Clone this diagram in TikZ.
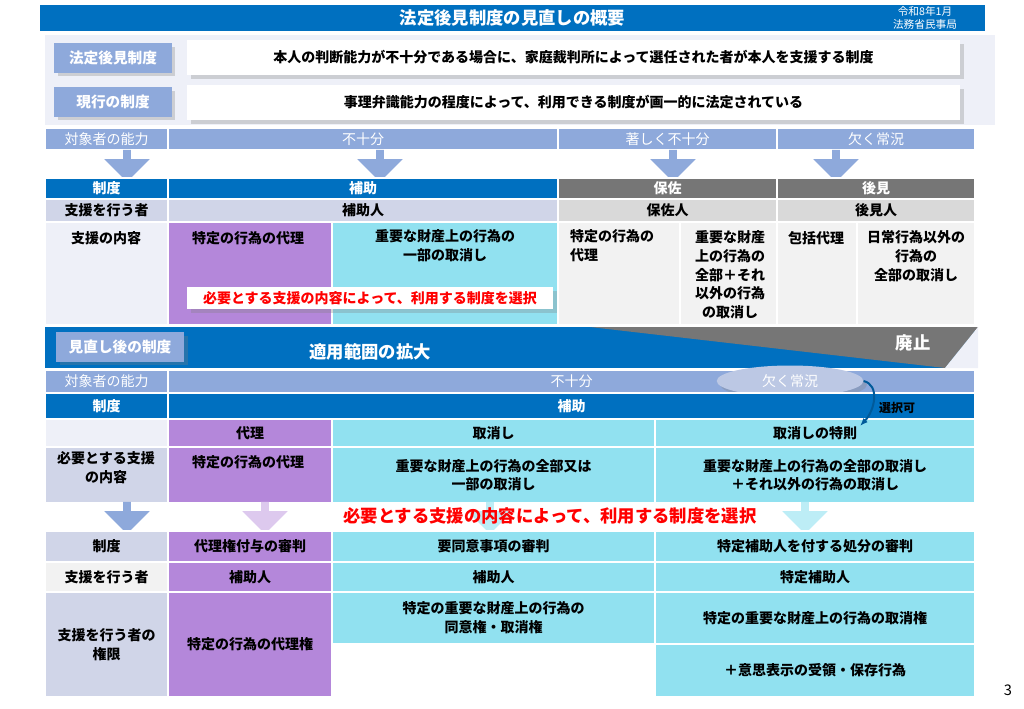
\documentclass[tikz,border=0pt]{standalone}
\usepackage{fontspec}
\setmainfont{Noto Sans CJK JP}
\usetikzlibrary{shapes.geometric, shapes.arrows, arrows.meta, shadows}
\definecolor{hdblue}{RGB}{0,112,192}
\definecolor{capblue}{RGB}{142,169,219}
\definecolor{lav}{RGB}{208,213,232}
\definecolor{pale}{RGB}{238,240,248}
\definecolor{purp}{RGB}{180,135,218}
\definecolor{cyanc}{RGB}{145,225,240}
\definecolor{gry}{RGB}{118,118,118}
\definecolor{lgry}{RGB}{217,217,217}
\definecolor{vlgry}{RGB}{242,242,242}
\tikzstyle{cell} = [draw=white, line width=0.8pt]
\tikzstyle{txt} = [font=\bfseries\fontsize{10.5}{14}\selectfont, align=center]
\tikzstyle{wtxt} = [txt, text=white]
\tikzstyle{ltxt} = [text=white, font=\fontsize{10.5}{14}\selectfont]
\tikzstyle{tag} = [rectangle, fill=capblue, text=white, font=\bfseries\fontsize{11}{14}\selectfont, drop shadow={opacity=0.3}]
\tikzstyle{downarrow} = [single arrow, shape border rotate=270, minimum height=24pt, minimum width=34pt, single arrow head extend=6pt, inner sep=1pt]
\begin{document}
\begin{tikzpicture}[x=0.75pt, y=-0.75pt]
	\useasboundingbox (0,0) rectangle (1024,709);
	
	% title
	\path[fill=hdblue] (40,5) rectangle node (title) [text=white, font=\bfseries\fontsize{13}{15}\selectfont] {法定後見制度の見直しの概要} (985,31);
	\node (date) [text=white, font=\fontsize{8}{9.5}\selectfont, align=center] at (925,18) {令和8年1月\\法務省民事局};
	
	% upper panel
	\fill[pale] (45,35) rectangle (995,125);
	\node (t1) [tag, minimum width=88pt, minimum height=22pt] at (113,58) {法定後見制度};
	\path[fill=white, drop shadow={opacity=0.3}] (187,40) rectangle node (d1) [txt] {本人の判断能力が不十分である場合に、家庭裁判所によって選任された者が本人を支援する制度} (960,75);
	\node (t2) [tag, minimum width=88pt, minimum height=22pt] at (113,102) {現行の制度};
	\path[fill=white, drop shadow={opacity=0.3}] (187,85) rectangle node (d2) [txt] {事理弁識能力の程度によって、利用できる制度が画一的に法定されている} (960,120);
	
	% current system table
	\path[cell, fill=capblue] (45,128) rectangle node (a0) [ltxt] {対象者の能力} (168,150);
	\path[cell, fill=capblue] (168,128) rectangle node (a1) [ltxt] {不十分} (558,150);
	\path[cell, fill=capblue] (558,128) rectangle node (a2) [ltxt] {著しく不十分} (777,150);
	\path[cell, fill=capblue] (777,128) rectangle node (a3) [ltxt] {欠く常況} (975,150);
	\fill[white] (45,150) rectangle (975,178);
	\foreach \x/\n in {127/0, 380/1, 673/2, 836/3}
		\node (da\n) [downarrow, fill=capblue] at (\x,164) {};
	\path[cell, fill=hdblue] (45,178) rectangle node (b0) [wtxt] {制度} (168,199);
	\path[cell, fill=hdblue] (168,178) rectangle node (b1) [wtxt] {補助} (558,199);
	\path[cell, fill=gry] (558,178) rectangle node (b2) [wtxt] {保佐} (777,199);
	\path[cell, fill=gry] (777,178) rectangle node (b3) [wtxt] {後見} (975,199);
	\path[cell, fill=lav] (45,199) rectangle node (c0) [txt] {支援を行う者} (168,222);
	\path[cell, fill=lav] (168,199) rectangle node (c1) [txt] {補助人} (558,222);
	\path[cell, fill=lgry] (558,199) rectangle node (c2) [txt] {保佐人} (777,222);
	\path[cell, fill=lgry] (777,199) rectangle node (c3) [txt] {後見人} (975,222);
	\path[cell, fill=pale] (45,222) rectangle (168,325);
	\node (e0) [txt] at (106,238) {支援の内容};
	\path[cell, fill=purp] (168,222) rectangle (332,325);
	\node (e1) [txt] at (248,238) {特定の行為の代理};
	\path[cell, fill=cyanc] (332,222) rectangle (558,325);
	\node (e2) [txt] at (445,246) {重要な財産上の行為の\\一部の取消し};
	\path[cell, fill=vlgry] (558,222) rectangle (680,325);
	\node (e3) [txt, align=left] at (612,246) {特定の行為の\\代理};
	\path[cell, fill=vlgry] (680,222) rectangle (857,325);
	\node (e4) [txt, anchor=north] at (730,226) {重要な財産\\上の行為の\\全部＋それ\\以外の行為\\の取消し};
	\path[cell, fill=vlgry] (777,222) rectangle (857,325);
	\path[cell, fill=vlgry] (857,222) rectangle (975,325);
	\node (e5) [txt] at (816,238) {包括代理};
	\node (e6) [txt, anchor=north] at (916,226) {日常行為以外の\\行為の\\全部の取消し};
	\path[fill=white, drop shadow={opacity=0.3}] (187,287) rectangle node (sel1) [txt, text=red] {必要とする支援の内容によって、利用する制度を選択} (553,309);
	
	% reform band
	\fill[hdblue] (45,327) rectangle (975,368);
	\fill[gry] (590,327) -- (978,327) -- (945,368) -- cycle;
	\fill[pale] (978,327) -- (978,368) -- (945,368) -- cycle;
	\node (t3) [tag, minimum width=96pt, minimum height=22pt] at (120,347) {見直し後の制度};
	\node (wide) [text=white, font=\bfseries\fontsize{13}{15}\selectfont] at (370,352) {適用範囲の拡大};
	\node (abol) [text=white, font=\bfseries\fontsize{13}{15}\selectfont] at (913,343) {廃止};
	
	% reformed table
	\path[cell, fill=capblue] (45,370) rectangle node (f0) [ltxt] {対象者の能力} (168,393);
	\path[cell, fill=capblue] (168,370) rectangle node (f1) [ltxt] {不十分} (975,393);
	\node (ov) [ellipse, fill=lav!70!capblue, minimum width=110pt, minimum height=15pt, text=white, font=\fontsize{10.5}{13}\selectfont, drop shadow={opacity=0.3}] at (790,381) {欠く常況};
	\path[cell, fill=hdblue] (45,393) rectangle node (g0) [wtxt] {制度} (168,419);
	\path[cell, fill=hdblue] (168,393) rectangle node (g1) [wtxt] {補助} (975,419);
	\node (opt) [txt, font=\bfseries\fontsize{9}{10}\selectfont] at (897,408) {選択可};
	\path[cell, fill=pale] (45,419) rectangle (168,447);
	\path[cell, fill=purp] (168,419) rectangle node (h1) [txt] {代理} (332,447);
	\path[cell, fill=cyanc] (332,419) rectangle node (h2) [txt] {取消し} (655,447);
	\path[cell, fill=cyanc] (655,419) rectangle node (h3) [txt] {取消しの特則} (975,447);
	\coordinate (tip) at (860,426);
	\draw[-{Latex[length=6pt]}, line width=1.5pt, hdblue!80!black] (ov.east) .. controls (880,385) and (875,410) .. (tip);
	\path[cell, fill=lav] (45,447) rectangle (168,503);
	\node (i0) [txt] at (106,468) {必要とする支援\\の内容};
	\path[cell, fill=purp] (168,447) rectangle (332,503);
	\node (i1) [txt] at (248,462) {特定の行為の代理};
	\path[cell, fill=cyanc] (332,447) rectangle node (i2) [txt] {重要な財産上の行為の全部又は\\一部の取消し} (655,503);
	\path[cell, fill=cyanc] (655,447) rectangle node (i3) [txt] {重要な財産上の行為の全部の取消し\\＋それ以外の行為の取消し} (975,503);
	\foreach \x/\n/\c in {127/0/capblue, 265/1/purp!45, 490/2/cyanc!60, 805/3/cyanc!60}
		\node (db\n) [downarrow, fill=\c] at (\x,516) {};
	\node (sel2) [font=\bfseries\fontsize{13}{15}\selectfont, text=red] at (550,516) {必要とする支援の内容によって、利用する制度を選択};
	\path[cell, fill=lav] (45,531) rectangle node (j0) [txt] {制度} (168,562);
	\path[cell, fill=purp] (168,531) rectangle node (j1) [txt] {代理権付与の審判} (332,562);
	\path[cell, fill=cyanc] (332,531) rectangle node (j2) [txt] {要同意事項の審判} (655,562);
	\path[cell, fill=cyanc] (655,531) rectangle node (j3) [txt] {特定補助人を付する処分の審判} (975,562);
	\path[cell, fill=vlgry] (45,562) rectangle node (k0) [txt] {支援を行う者} (168,592);
	\path[cell, fill=purp] (168,562) rectangle node (k1) [txt] {補助人} (332,592);
	\path[cell, fill=cyanc] (332,562) rectangle node (k2) [txt] {補助人} (655,592);
	\path[cell, fill=cyanc] (655,562) rectangle node (k3) [txt] {特定補助人} (975,592);
	\path[cell, fill=lav] (45,592) rectangle node (l0) [txt] {支援を行う者の\\権限} (168,697);
	\path[cell, fill=purp] (168,592) rectangle node (l1) [txt] {特定の行為の代理権} (332,697);
	\path[cell, fill=cyanc] (332,592) rectangle node (l2) [txt] {特定の重要な財産上の行為の\\同意権・取消権} (655,644);
	\path[cell, fill=white] (332,644) rectangle (655,697);
	\path[cell, fill=cyanc] (655,592) rectangle node (l3) [txt] {特定の重要な財産上の行為の取消権} (975,644);
	\path[cell, fill=cyanc] (655,644) rectangle node (l4) [txt] {＋意思表示の受領・保存行為} (975,697);
	\node (pg) [font=\fontsize{11}{12}\selectfont] at (1008,690) {3};
\end{tikzpicture}
\end{document}
